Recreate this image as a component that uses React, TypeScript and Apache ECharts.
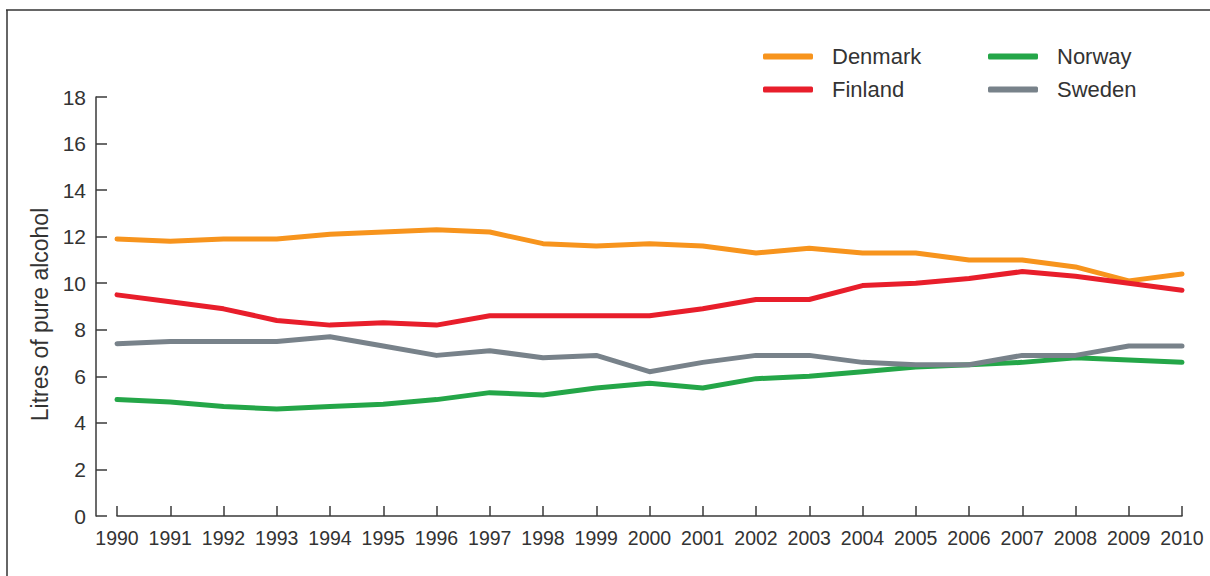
import React, { useEffect, useRef } from "react";
import * as echarts from "echarts";

const years = ["1990","1991","1992","1993","1994","1995","1996","1997","1998","1999","2000","2001","2002","2003","2004","2005","2006","2007","2008","2009","2010"];
const denmark = [11.9,11.8,11.9,11.9,12.1,12.2,12.3,12.2,11.7,11.6,11.7,11.6,11.3,11.5,11.3,11.3,11.0,11.0,10.7,10.1,10.4];
const finland = [9.5,9.2,8.9,8.4,8.2,8.3,8.2,8.6,8.6,8.6,8.6,8.9,9.3,9.3,9.9,10.0,10.2,10.5,10.3,10.0,9.7];
const norway = [5.0,4.9,4.7,4.6,4.7,4.8,5.0,5.3,5.2,5.5,5.7,5.5,5.9,6.0,6.2,6.4,6.5,6.6,6.8,6.7,6.6];
const sweden = [7.4,7.5,7.5,7.5,7.7,7.3,6.9,7.1,6.8,6.9,6.2,6.6,6.9,6.9,6.6,6.5,6.5,6.9,6.9,7.3,7.3];

const FONT = "'Liberation Sans Narrow', 'Arial Narrow', 'Liberation Sans', Arial, sans-serif";
const AXIS = "#3a3a3a";

export default function App() {
  const ref = useRef<HTMLDivElement>(null);
  useEffect(() => {
    document.body.style.margin = "0";
    const chart = echarts.init(ref.current!, null, { renderer: "svg" });
    const mk = (name: string, data: number[], color: string) => ({
      name, type: "line", data, symbol: "none", smooth: false,
      lineStyle: { color, width: 5, cap: "round", join: "round" },
      itemStyle: { color },
    });
    const legendBase = {
      orient: "vertical",
      top: 39,
      itemWidth: 50,
      itemHeight: 6,
      itemGap: 8,
      icon: "roundRect",
      textStyle: { fontFamily: FONT, fontSize: 22, color: "#333", padding: [0, 0, 0, 14], lineHeight: 25 },
    };
    chart.setOption({
      animation: false,
      backgroundColor: "#fff",
      textStyle: { fontFamily: FONT },
      legend: [
        { ...legendBase, left: 758, data: ["Denmark", "Finland"] },
        { ...legendBase, left: 983, data: ["Norway", "Sweden"] },
      ],
      grid: { left: 117, right: 28, top: 97, bottom: 60, containLabel: false },
      xAxis: {
        type: "category",
        data: years,
        boundaryGap: false,
        offset: 3,
        axisLine: { lineStyle: { color: AXIS, width: 1.5 } },
        axisTick: { inside: true, length: 10, lineStyle: { color: AXIS, width: 1.5 } },
        axisLabel: { fontFamily: FONT, fontSize: 19.5, color: "#333", margin: 9, interval: 0 },
        splitLine: { show: false },
      },
      yAxis: {
        type: "value",
        min: 0, max: 18, interval: 2,
        offset: 21,
        name: "Litres of pure alcohol",
        nameLocation: "middle",
        nameGap: 44,
        nameRotate: 90,
        nameTextStyle: { fontFamily: FONT, fontSize: 23, color: "#333", padding: [0, 16, 0, 0] },
        axisLine: { show: true, lineStyle: { color: AXIS, width: 1.5 } },
        axisTick: { show: true, inside: true, length: 11, lineStyle: { color: AXIS, width: 1.5 } },
        axisLabel: { fontFamily: FONT, fontSize: 21, color: "#333", margin: 10 },
        splitLine: { show: false },
      },
      graphic: [
        { type: "line", shape: { x1: 6, y1: 10, x2: 1210, y2: 10 }, style: { stroke: "#333", lineWidth: 1.5 } },
        { type: "line", shape: { x1: 7, y1: 10, x2: 7, y2: 576 }, style: { stroke: "#333", lineWidth: 1.5 } },
      ],
      series: [
        mk("Denmark", denmark, "#F7941D"),
        mk("Finland", finland, "#E81E2B"),
        mk("Norway", norway, "#24A648"),
        mk("Sweden", sweden, "#78828A"),
      ],
    });
    return () => chart.dispose();
  }, []);
  return <div ref={ref} style={{ width: 1210, height: 576 }} />;
}
